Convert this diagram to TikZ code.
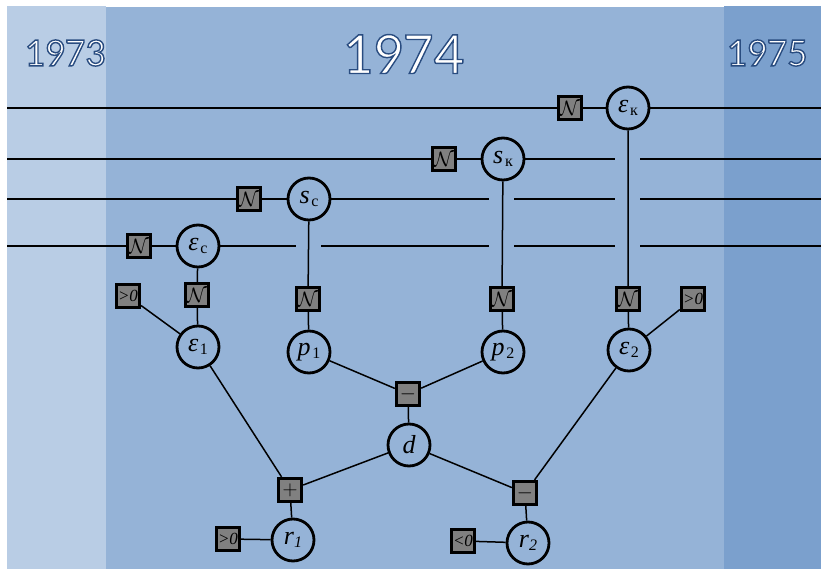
\documentclass[tikz,border=0pt]{standalone}
\usepackage{fontspec}
\setmainfont{Liberation Serif}
\newfontfamily\yearfont{Carlito}
\definecolor{bgleft}{HTML}{B9CDE5}
\definecolor{bgmid}{HTML}{95B3D7}
\definecolor{bgright}{HTML}{7BA0CD}
\definecolor{boxgray}{HTML}{808080}
\newcommand\vlab[2]{{\fontsize{26}{26}\selectfont\itshape #1}\,\raisebox{-0.6ex}{\fontsize{16}{16}\selectfont #2}}
\newcommand\vlabi[2]{{\fontsize{26}{26}\selectfont\itshape #1}\raisebox{-0.6ex}{\fontsize{16}{16}\selectfont\itshape #2}}
\newcommand\yearlab[2]{{\yearfont\fontsize{#1}{#1}\selectfont\color{white}\special{pdf:literal direct 0.16 0.30 0.50 RG 1 g 2 Tr 1.4 w}#2\special{pdf:literal direct 0 Tr}}}
\newcommand\nsym{{\fontsize{22}{22}\selectfont$\mathcal{N}$}}
\begin{document}
\begin{tikzpicture}[x=1pt,y=-1pt,
  var/.style={circle,draw,line width=2.8pt,minimum size=42pt,inner sep=0pt},
  fbox/.style={rectangle,draw,line width=2.8pt,fill=boxgray,minimum size=23.5pt,inner sep=0pt},
  edge/.style={line width=1.5pt},
  boxtxt/.style={font=\fontsize{17}{17}\selectfont\itshape}]
\useasboundingbox (0,0) rectangle (821,569);
\fill[white] (0,0) rectangle (821,569);
\fill[bgleft] (7,6) rectangle (106,569);
\fill[bgmid] (106,7) rectangle (724,569);
\fill[bgright] (724,6) rectangle (821,569);
\node (y73) at (65,53) {\yearlab{40}{1973}};
\node (y74) at (403,54) {\yearlab{60}{1974}};
\node (y75) at (767,53) {\yearlab{40}{1975}};

% nodes
\node[fbox] (Nk) at (570,108) {\nsym};
\node[var] (ek) at (628,108) {\vlab{ε}{к}};
\node[fbox] (Nsk) at (444,159) {\nsym};
\node[var] (sk) at (503,159) {\vlab{s}{к}};
\node[fbox] (Nsc) at (249,199) {\nsym};
\node[var] (sc) at (309,199) {\vlab{s}{с}};
\node[fbox] (Nec) at (139,246) {\nsym};
\node[var] (ec) at (198,246) {\vlab{ε}{с}};
\node[fbox] (Ne1) at (197,295) {\nsym};
\node[fbox,boxtxt] (g1) at (128,296) {>0};
\node[var] (e1) at (198,347) {\vlab{ε}{1}};
\node[fbox] (Np1) at (308,299) {\nsym};
\node[var] (p1) at (309,352) {\vlab{p}{1}};
\node[fbox] (Np2) at (502,299) {\nsym};
\node[var] (p2) at (503,352) {\vlab{p}{2}};
\node[fbox] (Ne2) at (628,299) {\nsym};
\node[fbox,boxtxt] (g2) at (693,299) {>0};
\node[var] (e2) at (629,350) {\vlab{ε}{2}};
\node[fbox] (m1) at (408,394) {\fontsize{22}{22}\selectfont$-$};
\node[var] (d) at (409,445) {{\fontsize{26}{26}\selectfont\itshape d}};
\node[fbox] (pl) at (290,490) {\fontsize{22}{22}\selectfont$+$};
\node[var] (r1) at (293,540) {\vlabi{r}{1}};
\node[fbox,boxtxt] (g3) at (228,539) {>0};
\node[fbox] (m2) at (525,493) {\fontsize{22}{22}\selectfont$-$};
\node[var] (r2) at (528,543) {\vlabi{r}{2}};
\node[fbox,boxtxt] (l0) at (463,541) {<0};

% free line ends
\coordinate (a1) at (7,108);   \coordinate (b1) at (821,108);
\coordinate (a2) at (7,159);   \coordinate (c2) at (615,159);
\coordinate (d2) at (640,159); \coordinate (b2) at (821,159);
\coordinate (a3) at (7,199);   \coordinate (c3) at (489,199);
\coordinate (d3) at (514,199); \coordinate (e3) at (615,199);
\coordinate (f3) at (640,199); \coordinate (b3) at (821,199);
\coordinate (a4) at (7,246);   \coordinate (c4) at (296,246);
\coordinate (d4) at (321,246); \coordinate (e4) at (489,246);
\coordinate (f4) at (514,246); \coordinate (g4) at (615,246);
\coordinate (h4) at (640,246); \coordinate (b4) at (821,246);

\begin{scope}[edge]
\draw (a1) -- (Nk) -- (ek) -- (b1);
\draw (a2) -- (Nsk) -- (sk) -- (c2);
\draw (d2) -- (b2);
\draw (a3) -- (Nsc) -- (sc) -- (c3);
\draw (d3) -- (e3);
\draw (f3) -- (b3);
\draw (a4) -- (Nec) -- (ec) -- (c4);
\draw (d4) -- (e4);
\draw (f4) -- (g4);
\draw (h4) -- (b4);
\draw (ec) -- (Ne1) -- (e1);
\draw (g1) -- (e1);
\draw (sc) -- (Np1) -- (p1);
\draw (sk) -- (Np2) -- (p2);
\draw (ek) -- (Ne2) -- (e2);
\draw (g2) -- (e2);
\draw (p1) -- (m1) -- (p2);
\draw (m1) -- (d);
\draw (e1) -- (pl);
\draw (d) -- (pl);
\draw (pl) -- (r1);
\draw (g3) -- (r1);
\draw (d) -- (m2);
\draw (e2) -- (m2);
\draw (m2) -- (r2);
\draw (l0) -- (r2);
\end{scope}
\end{tikzpicture}
\end{document}
